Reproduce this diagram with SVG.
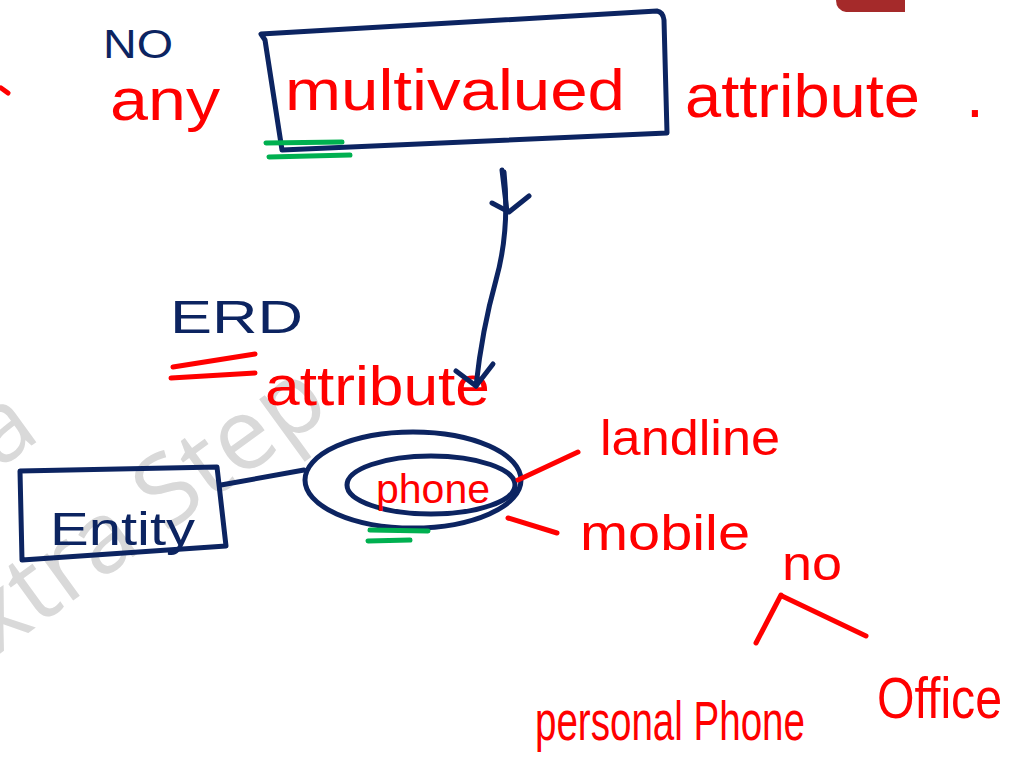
<svg xmlns="http://www.w3.org/2000/svg" width="1033" height="765" viewBox="0 0 1033 765">
<style>
.navy{fill:none;stroke:#0c2461;stroke-width:5;stroke-linecap:round;stroke-linejoin:round}
.redl{fill:none;stroke:#ff0000;stroke-width:5;stroke-linecap:round;stroke-linejoin:round}
.grn{fill:none;stroke:#00b050;stroke-width:5;stroke-linecap:round}
.tr{fill:#ff0000;font-family:"Liberation Sans","Open Sans",sans-serif}
.tn{fill:#0c2461;font-family:"Liberation Sans","Open Sans",sans-serif}
.wm{fill:#d9d9d9;font-family:"Open Sans","Liberation Sans",sans-serif;font-size:100px}
</style>
<rect width="1033" height="765" fill="#ffffff"/>
<g id="watermark">
<text class="wm" transform="translate(-2,470) rotate(-36)">a</text>
<text class="wm" transform="translate(-50,690) rotate(-36)">Extra Step</text>
</g>
<path d="M836,0 L905,0 L905,12 L846,12 Q836,10 836,0 Z" fill="#a52a2a"/>
<path class="redl" d="M1,88 L8,93" stroke-width="3"/>
<g id="no-label"><text class="tn" x="103" y="58" font-size="40" textLength="70" lengthAdjust="spacingAndGlyphs">NO</text></g>
<g id="any-label"><text class="tr" x="110" y="120" font-size="60" textLength="110" lengthAdjust="spacingAndGlyphs">any</text></g>
<g id="multivalued-box">
<path class="navy" d="M261,34 L657,11 Q663,12 664,20 L667,133 L282,150 L265,40 Z"/>
<text class="tr" x="285" y="110" font-size="58" textLength="340" lengthAdjust="spacingAndGlyphs">multivalued</text>
<path class="grn" d="M266,143 L342,142 M269,157 L350,155"/>
</g>
<g id="attribute-top"><text class="tr" x="685" y="117" font-size="62" textLength="235" lengthAdjust="spacingAndGlyphs">attribute</text>
<text class="tr" x="966" y="117" font-size="64">.</text></g>
<g id="erd-label">
<text class="tn" x="170" y="333" font-size="46" textLength="133" lengthAdjust="spacingAndGlyphs">ERD</text>
<path class="redl" d="M173,367 L255,354 M171,378 L255,373"/>
</g>
<g id="attribute-mid"><text class="tr" x="265" y="405" font-size="55" textLength="225" lengthAdjust="spacingAndGlyphs">attribute</text></g>
<g id="phone">
<ellipse class="navy" cx="413" cy="480" rx="108" ry="48"/>
<ellipse class="navy" cx="431" cy="485" rx="84" ry="29"/>
<text class="tr" x="376" y="503" font-size="40" textLength="114" lengthAdjust="spacingAndGlyphs">phone</text>
<path class="grn" d="M370,530 L428,531 M368,541 L410,540"/>
</g>
<g id="entity">
<path class="navy" d="M20,471 L217,467 L226,546 L22,560 Z"/>
<text class="tn" x="50" y="545" font-size="46" textLength="145" lengthAdjust="spacingAndGlyphs">Entity</text>
</g>
<g id="landline"><text class="tr" x="600" y="455" font-size="50" textLength="180" lengthAdjust="spacingAndGlyphs">landline</text></g>
<g id="mobile"><text class="tr" x="580" y="550" font-size="50" textLength="170" lengthAdjust="spacingAndGlyphs">mobile</text></g>
<g id="no-red"><text class="tr" x="782" y="580" font-size="48" textLength="60" lengthAdjust="spacingAndGlyphs">no</text></g>
<g id="personal-phone"><text class="tr" x="535" y="740" font-size="56" textLength="270" lengthAdjust="spacingAndGlyphs">personal Phone</text></g>
<g id="office"><text class="tr" x="877" y="718" font-size="58" textLength="125" lengthAdjust="spacingAndGlyphs">Office</text></g>
<g id="connectors">
<path class="navy" d="M504,172 Q510,230 496,280 Q482,330 476,386"/>
<path class="navy" d="M492,203 L509,212 L529,196 M502,170 L507,212"/>
<path class="navy" d="M456,371 L476,386 L493,364"/>
<path class="navy" d="M221,485 Q265,477 304,470" stroke-width="4"/>
<path class="redl" d="M518,480 L578,452"/>
<path class="redl" d="M508,518 L557,533"/>
<path class="redl" d="M756,643 L781,595 M782,596 L866,636"/>
</g>
</svg>
